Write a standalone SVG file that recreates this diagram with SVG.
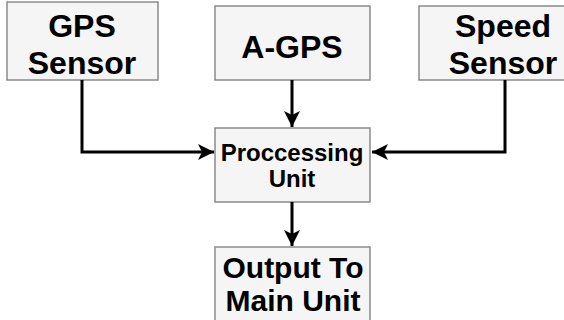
<svg xmlns="http://www.w3.org/2000/svg" width="564" height="320" viewBox="0 0 564 320">
<defs>
<style>
.box{fill:#f4f5f4;stroke:#8a8a8a;stroke-width:1.5}
.t{font-family:"Liberation Sans",Arial,sans-serif;font-weight:bold;fill:#000;text-anchor:middle}
.big{font-size:32px}
.out{font-size:30px}
.mid{font-size:24px}
.c{fill:none;stroke:#000;stroke-width:3}
</style>
<marker id="ah" viewBox="0 0 16 16" refX="16" refY="8" markerWidth="16" markerHeight="16" markerUnits="userSpaceOnUse" orient="auto">
<path d="M0,0 L16,8 L0,16 L4,8 Z" fill="#000"/>
</marker>
</defs>
<rect width="564" height="320" fill="#fff"/>
<g id="gps">
<rect class="box" x="7" y="2" width="151" height="78"/>
<text class="t big" x="82" y="37">GPS</text>
<text class="t big" x="82" y="74">Sensor</text>
</g>
<g id="agps">
<rect class="box" x="215" y="6" width="155" height="74"/>
<text class="t big" x="292" y="58">A-GPS</text>
</g>
<g id="speed">
<rect class="box" x="419" y="6" width="160" height="74"/>
<text class="t big" x="503" y="37">Speed</text>
<text class="t big" x="503" y="74">Sensor</text>
</g>
<g id="proc">
<rect class="box" x="215" y="128" width="155" height="74"/>
<text class="t mid" x="292" y="161">Proccessing</text>
<text class="t mid" x="292" y="187">Unit</text>
</g>
<g id="out">
<rect class="box" x="215" y="247" width="155" height="80"/>
<text class="t out" x="293" y="278">Output To</text>
<text class="t out" x="293" y="311">Main Unit</text>
</g>
<g id="connectors">
<path class="c" d="M292,80 V127" marker-end="url(#ah)"/>
<path class="c" d="M82,80 V152 H214" marker-end="url(#ah)"/>
<path class="c" d="M505,80 V152 H372" marker-end="url(#ah)"/>
<path class="c" d="M292,202 V246" marker-end="url(#ah)"/>
</g>
</svg>
